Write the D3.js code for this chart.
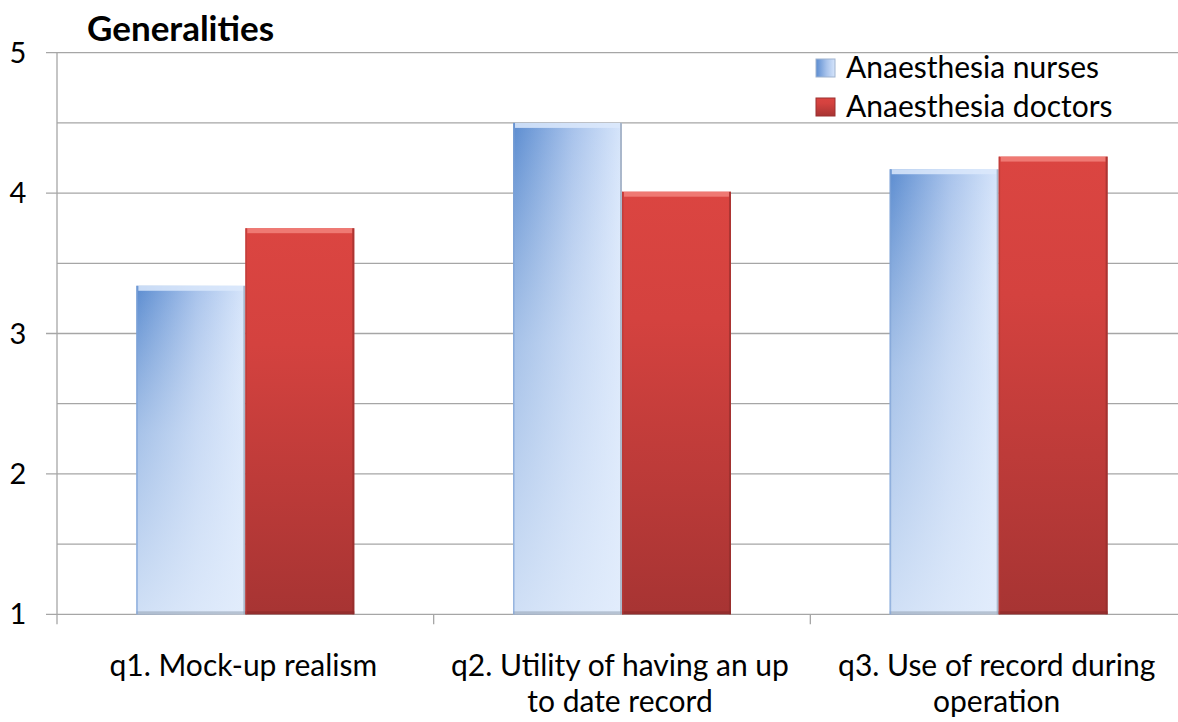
<!DOCTYPE html>
<html>
<head>
<meta charset="utf-8">
<script src="https://cdn.jsdelivr.net/npm/d3@7"></script>
<style>
  body { margin: 0; background: #fff; }
  svg { display: block; font-family: Lato, "Open Sans", sans-serif; }
</style>
</head>
<body>
<svg id="chart" width="1178" height="722"></svg>
<script>
const categories = ["q1. Mock-up realism", "q2. Utility of having an up to date record", "q3. Use of record during operation"];
const seriesNames = ["Anaesthesia nurses", "Anaesthesia doctors"];
const nurses = [3.34, 4.5, 4.17];
const doctors = [3.75, 4.01, 4.26];
const yTicks = [1, 2, 3, 4, 5];
const yGrid = [1.5, 2, 2.5, 3, 3.5, 4, 4.5, 5];

const svg = d3.select("#chart");
const plotLeft = 57, plotRight = 1187, plotTop = 52.7, plotBottom = 614.3;

const x = d3.scaleBand().domain(categories).range([plotLeft, plotRight]);
const xSub = d3.scaleBand().domain(seriesNames).range([0, x.bandwidth()]).paddingInner(0).paddingOuter(0.728);
const y = d3.scaleLinear().domain([1, 5]).range([plotBottom, plotTop]);

// gradients
const defs = svg.append("defs");
const gBlue = defs.append("linearGradient").attr("id", "blueH").attr("x1", 0).attr("y1", 0).attr("x2", 1).attr("y2", 0);
gBlue.append("stop").attr("offset", 0).attr("stop-color", "#5b8cd0");
gBlue.append("stop").attr("offset", 0.55).attr("stop-color", "#a7c2eb");
gBlue.append("stop").attr("offset", 1).attr("stop-color", "#d6e5fb");
const gBlueV = defs.append("linearGradient").attr("id", "blueV").attr("x1", 0).attr("y1", 0).attr("x2", 0).attr("y2", 1);
gBlueV.append("stop").attr("offset", 0).attr("stop-color", "#fff").attr("stop-opacity", 0);
gBlueV.append("stop").attr("offset", 0.45).attr("stop-color", "#e4eefc").attr("stop-opacity", 0.55);
gBlueV.append("stop").attr("offset", 1).attr("stop-color", "#e4eefc").attr("stop-opacity", 0.85);
const gRed = defs.append("linearGradient").attr("id", "redV").attr("x1", 0).attr("y1", 0).attr("x2", 0).attr("y2", 1);
gRed.append("stop").attr("offset", 0).attr("stop-color", "#db4541");
gRed.append("stop").attr("offset", 0.3).attr("stop-color", "#d4423f");
gRed.append("stop").attr("offset", 1).attr("stop-color", "#a73433");

// gridlines
svg.append("g").selectAll("line").data(yGrid).join("line")
  .attr("x1", d => Number.isInteger(d) ? plotLeft - 11 : plotLeft).attr("x2", 1178)
  .attr("y1", d => y(d)).attr("y2", d => y(d))
  .attr("stroke", "#a6a6a6").attr("stroke-width", 1.3);

// axes
svg.append("line").attr("x1", plotLeft).attr("x2", plotLeft).attr("y1", plotTop).attr("y2", plotBottom + 10)
  .attr("stroke", "#a6a6a6").attr("stroke-width", 1.3);
svg.append("line").attr("x1", plotLeft - 11).attr("x2", 1178).attr("y1", y(1)).attr("y2", y(1))
  .attr("stroke", "#a6a6a6").attr("stroke-width", 1.3);
svg.append("g").selectAll("line").data(categories.slice(1)).join("line")
  .attr("x1", d => x(d)).attr("x2", d => x(d)).attr("y1", plotBottom).attr("y2", plotBottom + 10)
  .attr("stroke", "#a6a6a6").attr("stroke-width", 1.3);

svg.append("g").selectAll("text").data(yTicks).join("text")
  .attr("x", 18).attr("y", d => y(d) + 10).attr("text-anchor", "middle")
  .attr("font-size", 29).attr("fill", "#000").text(d => d);

// bars
const rows = categories.map((c, i) => [
  { cat: c, s: seriesNames[0], v: nurses[i] },
  { cat: c, s: seriesNames[1], v: doctors[i] }
]).flat();

const bars = svg.append("g").selectAll("g").data(rows).join("g")
  .attr("transform", d => `translate(${x(d.cat) + xSub(d.s)},${y(d.v)})`);
const bw = xSub.bandwidth();

bars.each(function (d) {
  const g = d3.select(this);
  const h = y(1) - y(d.v);
  const blue = d.s === seriesNames[0];
  g.append("rect").attr("width", bw).attr("height", h)
    .attr("fill", blue ? "url(#blueH)" : "url(#redV)");
  if (blue) {
    g.append("rect").attr("width", bw).attr("height", h).attr("fill", "url(#blueV)");
  }
  // bevel: top highlight, side and bottom shade
  g.append("rect").attr("x", 2).attr("y", 0).attr("width", bw - 4).attr("height", 5)
    .attr("fill", blue ? "#dce9fb" : "#f2827d").attr("opacity", 0.85);
  g.append("rect").attr("x", bw - 2).attr("y", 0).attr("width", 2).attr("height", h)
    .attr("fill", blue ? "#8a98ac" : "#8e2b2a").attr("opacity", 0.6);
  g.append("rect").attr("x", 0).attr("y", h - 3).attr("width", bw).attr("height", 3)
    .attr("fill", blue ? "#9aa6b8" : "#872a29").attr("opacity", 0.6);
  g.append("rect").attr("x", 0).attr("y", 0).attr("width", 1.5).attr("height", h)
    .attr("fill", blue ? "#7fa3d6" : "#b83a37").attr("opacity", 0.7);
});

// category labels
function wrap(text, maxW) {
  text.each(function () {
    const t = d3.select(this);
    const words = t.text().split(" ");
    const cx = t.attr("x");
    t.text(null);
    let line = [];
    let ts = t.append("tspan").attr("x", cx).attr("dy", 0);
    for (const w of words) {
      line.push(w);
      ts.text(line.join(" "));
      if (ts.node().getComputedTextLength() > maxW && line.length > 1) {
        line.pop();
        ts.text(line.join(" "));
        line = [w];
        ts = t.append("tspan").attr("x", cx).attr("dy", 36).text(w);
      }
    }
  });
}

svg.append("g").selectAll("text").data(categories).join("text")
  .attr("x", d => x(d) + x.bandwidth() / 2 - 2)
  .attr("y", 676).attr("text-anchor", "middle")
  .attr("font-size", 30).attr("fill", "#000").text(d => d)
  .call(wrap, 362);

// title
svg.append("text").attr("x", 87).attr("y", 41).attr("font-size", 35).attr("font-weight", "bold")
  .attr("fill", "#000").text("Generalities");

// legend
const legend = svg.append("g").attr("transform", "translate(816,59)");
const li = legend.selectAll("g").data(seriesNames).join("g")
  .attr("transform", (d, i) => `translate(0,${i * 39})`);
li.append("rect").attr("width", 19).attr("height", 18)
  .attr("fill", (d, i) => i === 0 ? "url(#blueH)" : "url(#redV)")
  .attr("stroke", (d, i) => i === 0 ? "#9fb3cf" : "#9a3030").attr("stroke-width", 1);
li.append("text").attr("x", 30).attr("y", 19).attr("font-size", 30).attr("fill", "#000").text(d => d);
</script>
</body>
</html>
